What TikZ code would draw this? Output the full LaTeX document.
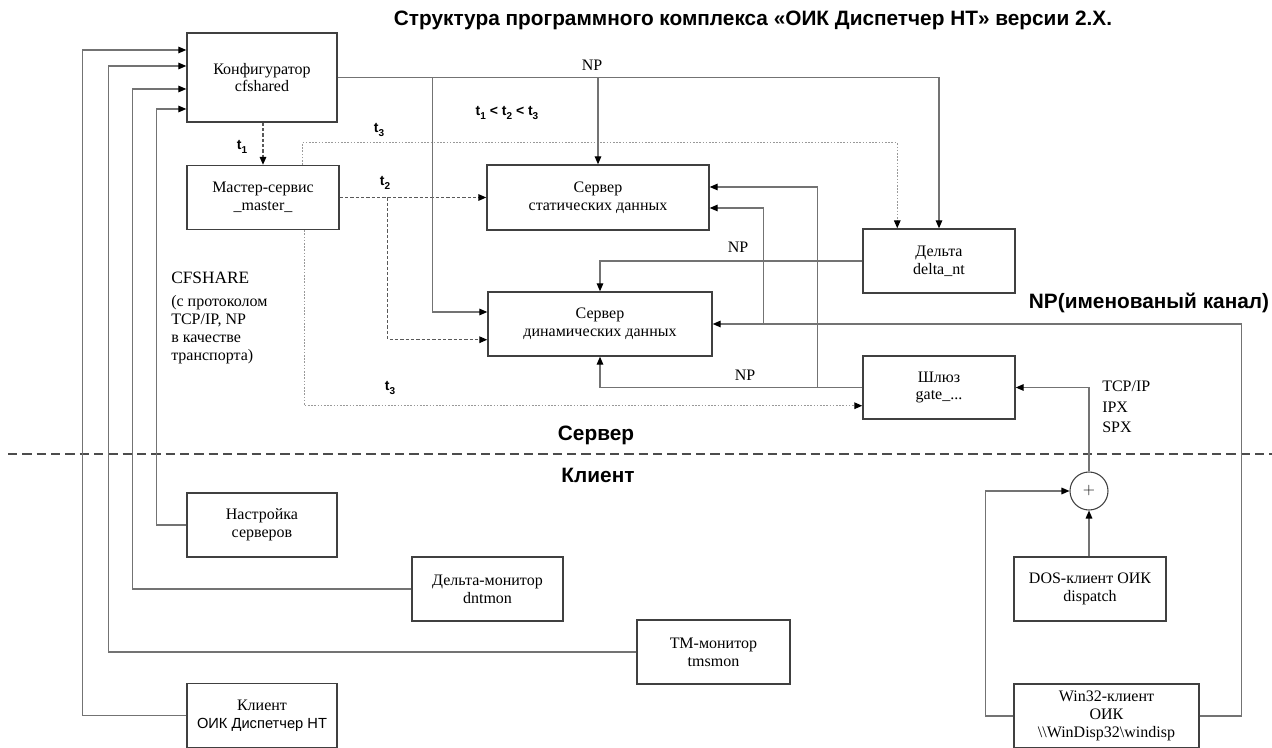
\documentclass[tikz,border=0pt]{standalone}
\usepackage{fontspec}
\setmainfont{Liberation Serif}
\setsansfont{Liberation Sans}
\usetikzlibrary{positioning,calc,arrows.meta}
\newcommand{\tsub}[1]{t\raisebox{-2.5pt}{\fontsize{7.5}{8}\selectfont #1}}

\begin{document}
\begin{tikzpicture}[
      x=0.75pt, y=-0.75pt,
      font=\fontsize{12}{13.3}\selectfont,
      box/.style={draw=black!75, line width=1.1pt, align=center, inner sep=0pt,
                  minimum width=114pt, minimum height=48pt},
      conn/.style={draw=black!55, line width=0.8pt},
      tip/.style={-{Triangle[length=6pt, width=5pt, color=black]}},
      tdash/.style={draw=black!65, line width=0.8pt, dash pattern=on 2.5pt off 1.5pt},
      tdot/.style={draw=black!40, line width=0.8pt, dash pattern=on 1.2pt off 1.2pt},
      tlab/.style={font=\sffamily\bfseries\fontsize{10.5}{12}\selectfont},
      head/.style={font=\sffamily\bfseries\fontsize{15.6}{18}\selectfont},
      lab/.style={align=left, inner sep=0pt},
      sep/.style={draw=black!70, line width=1.5pt, dash pattern=on 7pt off 3.75pt}
    ]
    \useasboundingbox (0,0) rectangle (1272,748);

    % ---- title and zone labels ----
    \node[head] (title) at (753,20) {Структура программного комплекса «ОИК Диспетчер НТ» версии 2.X.};
    \node[head] (srvlab) at (596,435) {Сервер};
    \node[head] (clilab) at (598,475) {Клиент};
    \node[head] (nplab) at (1149,303) {NP(именованый канал)};
    \draw[sep] (8,454) -- (1272,454);

    % ---- server side ----
    \node[box, minimum width=112.5pt, minimum height=66.75pt] (cfg) at (262,77.5) {Конфигуратор\\cfshared};
    \node[box] (master) at (263,197.5) {Мастер-сервис\\\_master\_};
    \node[box, minimum width=166.5pt, minimum height=48.75pt] (stat) at (598,197.5) {Сервер\\статических данных};
    \node[box, minimum width=168pt] (dyn) at (600,324) {Сервер\\динамических данных};
    \node[box] (delta) at (939,261) {Дельта\\delta\_nt};
    \node[box, minimum height=47.25pt] (gate) at (939,387.5) {Шлюз\\gate\_...};

    % ---- client side ----
    \node[box, minimum width=112.5pt] (nastr) at (262,525) {Настройка\\серверов};
    \node[box, minimum width=113.25pt] (dmon) at (487.5,589) {Дельта-монитор\\dntmon};
    \node[box, minimum width=114.75pt] (tmmon) at (713.5,652) {ТМ-монитор\\tmsmon};
    \node[box, minimum width=112.5pt] (client) at (262,715.5)
      {Клиент\\{\sffamily\fontsize{11}{13}\selectfont ОИК Диспетчер НТ}};
    \node[box] (dos) at (1090,589) {DOS-клиент ОИК\\dispatch};
    \node[box, minimum width=138.75pt] (win) at (1106.5,716)
      {Win32-клиент\\ОИК\\\textbackslash\textbackslash WinDisp32\textbackslash windisp};
    \node[circle, draw=black!75, line width=0.8pt, minimum size=28.5pt, inner sep=0pt] (plus) at (1089,491) {$+$};

    % ---- text labels ----
    \node (np1) at (592,65) {NP};
    \node (np2) at (738,247) {NP};
    \node (np3) at (745,375) {NP};
    \node[tlab] (t1) at (242,147) {\tsub{1}};
    \node[tlab] (t3a) at (379,130) {\tsub{3}};
    \node[tlab] (t2) at (385,183) {\tsub{2}};
    \node[tlab] (t3b) at (390,388) {\tsub{3}};
    \node[tlab] (order) at (507,113) {\tsub{1} < \tsub{2} < \tsub{3}};
    \node[lab, anchor=north west] (cfshare) at (171,272)
      {{\fontsize{13}{13}\selectfont CFSHARE}\\[4pt](с протоколом\\TCP/IP, NP\\в качестве\\транспорта)};
    \node[lab, anchor=north west, font=\fontsize{12}{15.4}\selectfont] (proto) at (1102,381) {TCP/IP\\IPX\\SPX};

    % ---- start order (t1, t2, t3) ----
    \draw[tdash,tip] (cfg.south -| master.north) -- (master.north);
    \draw[tdash,tip] (master.east) -- (master.east -| stat.west);
    \coordinate (t2fork) at ($(master.east)+(48,0)$);
    \draw[tdash,tip] (t2fork) |- ($(dyn.south west)+(0,-17)$);
    \draw[tdot,tip] ($(master.north west)+(116,0)$) -- ++(0,-22) -| ($(delta.north west)+(35,0)$);
    \draw[tdot,tip] ($(master.south west)+(118,0)$) |- ($(gate.south west)+(0,-14)$);

    % ---- configuration links ----
    \draw[conn,tip] (cfg.east) -| (delta.north);
    \draw[conn,tip] (cfg.east -| stat.north) -- (stat.north);
    \draw[conn,tip] ($(cfg.east)+(95,0)$) |- ($(dyn.west)+(0,-12)$);

    % ---- NP links between servers ----
    \draw[conn,tip] (delta.west) -| (dyn.north);
    \draw[conn,tip] (gate.west) -| (dyn.south);
    \draw[conn,tip] ($(gate.west)+(-45,0)$) |- ($(stat.east)+(0,-10.5)$);
    \draw[conn,tip] (win.east) -- ++(42,0) |- (dyn.east);
    \draw[conn,tip] ($(dyn.east)+(51,0)$) |- ($(stat.east)+(0,10.5)$);

    % ---- gateway clients ----
    \draw[conn,tip] (plus.north) |- (gate.east);
    \draw[conn,tip] (plus.south |- dos.north) -- (plus.south);
    \draw[conn,tip] (win.west) -- ++(-28,0) |- (plus.west);

    % ---- CFSHARE clients ----
    \draw[conn,tip] (nastr.west) -| ($(cfg.west)+(-30,31.5)$) -- ($(cfg.west)+(0,31.5)$);
    \draw[conn,tip] (dmon.west) -| ($(cfg.west)+(-54,11.5)$) -- ($(cfg.west)+(0,11.5)$);
    \draw[conn,tip] (tmmon.west) -| ($(cfg.west)+(-78,-11.5)$) -- ($(cfg.west)+(0,-11.5)$);
    \draw[conn,tip] (client.west) -| ($(cfg.west)+(-104,-27.5)$) -- ($(cfg.west)+(0,-27.5)$);
  \end{tikzpicture}
\end{document}
